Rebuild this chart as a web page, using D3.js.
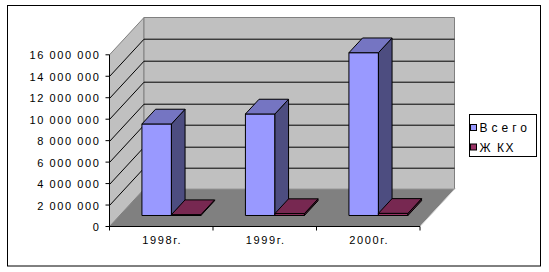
<!DOCTYPE html>
<html><head><meta charset="utf-8">
<script src="https://cdn.jsdelivr.net/npm/d3@7/dist/d3.min.js"></script>
<style>body{margin:0;background:#fff}svg{display:block}text{font-family:Arial,"Liberation Sans",sans-serif}</style>
</head><body>
<script>
const categories = ["1998г.", "1999г.", "2000г."];
const seriesNames = ["Всего", "Ж КХ"];
const vsego = [8530000, 9460000, 15170000];
const zhkh = [80000, 180000, 200000];
const yTicks = [0, 2000000, 4000000, 6000000, 8000000, 10000000, 12000000, 14000000, 16000000];
const yTickLabels = ["0", "2 000 000", "4 000 000", "6 000 000", "8 000 000", "10 000 000", "12 000 000", "14 000 000", "16 000 000"];

const W = 549, H = 272;
const svg = d3.select("body").append("svg").attr("width", W).attr("height", H);
svg.append("rect").attr("x", 7.5).attr("y", 5.5).attr("width", 533).attr("height", 260.5)
  .attr("fill", "#fff").attr("stroke", "#000");

const x0 = 109.5, xW = 310.5, y0 = 226.5;
const dx = 34.5, dy = -37.3;
const f0 = 0.295, f1 = 0.69;
const y = d3.scaleLinear().domain([0, 16000000]).range([y0, y0 - 171.7]);
const xb = d3.scaleBand().domain(categories).range([x0, x0 + xW]).paddingInner(0).paddingOuter(0);
const xs = d3.scaleBand().domain(seriesNames).range([0, xb.bandwidth()]).paddingInner(0).paddingOuter(0.754);
const P = (pts) => pts.map(p => p.join(",")).join(" ");
const yTop = y(16000000);

// walls
svg.append("polygon").attr("points", P([[x0, yTop], [x0 + dx, yTop + dy], [x0 + dx, y0 + dy], [x0, y0]]))
  .attr("fill", "#C0C0C0").attr("stroke", "#808080").attr("stroke-width", 1);
svg.append("polygon").attr("points", P([[x0 + dx, yTop + dy], [x0 + dx + xW, yTop + dy], [x0 + dx + xW, y0 + dy], [x0 + dx, y0 + dy]]))
  .attr("fill", "#C0C0C0").attr("stroke", "#808080").attr("stroke-width", 1);
// floor
svg.append("polygon").attr("points", P([[x0, y0], [x0 + xW, y0], [x0 + xW + dx, y0 + dy], [x0 + dx, y0 + dy]]))
  .attr("fill", "#808080").attr("stroke", "none");
svg.append("line").attr("x1", x0 + xW + 1).attr("y1", y0 - 1).attr("x2", x0 + xW + dx + 1).attr("y2", y0 + dy - 1)
  .attr("stroke", "#d8d8d8").attr("stroke-width", 1);

// gridlines
const gl = svg.append("g").attr("stroke", "#000").attr("stroke-width", 1).attr("fill", "none");
yTicks.filter(v => v > 0 && v < 16000000).forEach(v => {
  const yy = Math.round(y(v)) + 0.5;
  gl.append("polyline").attr("points", P([[x0, yy], [x0 + dx, yy + dy], [x0 + dx + xW, yy + dy]]));
});

// bars
const series = [
  {name: seriesNames[0], vals: vsego, front: "#9999FF", topc: "#7575C2", side: "#4D4D80", ls: 4.0},
  {name: seriesNames[1], vals: zhkh, front: "#993366", topc: "#772851", side: "#4D1A33", ls: 1.5}
];
const bars = svg.append("g").attr("stroke", "#000").attr("stroke-width", 1).attr("stroke-linejoin", "round");
categories.forEach((c, i) => {
  series.forEach(s => {
    const bx = xb(c) + xs(s.name) + f0 * dx;
    const bw = xs.bandwidth();
    const by0 = y(0) + f0 * dy;
    const by1 = y(s.vals[i]) + f0 * dy;
    const ddx = (f1 - f0) * dx, ddy = (f1 - f0) * dy;
    bars.append("polygon").attr("points", P([[bx, by1], [bx + bw, by1], [bx + bw, by0], [bx, by0]])).attr("fill", s.front);
    bars.append("polygon").attr("points", P([[bx + bw, by1], [bx + bw + ddx, by1 + ddy], [bx + bw + ddx, by0 + ddy], [bx + bw, by0]])).attr("fill", s.side);
    bars.append("polygon").attr("points", P([[bx, by1], [bx + ddx, by1 + ddy], [bx + bw + ddx, by1 + ddy], [bx + bw, by1]])).attr("fill", s.topc);
  });
});

// axes
const ax = svg.append("g").attr("stroke", "#000").attr("stroke-width", 1);
ax.append("line").attr("x1", x0).attr("x2", x0).attr("y1", yTop).attr("y2", y0);
ax.append("line").attr("x1", x0).attr("x2", x0 + xW).attr("y1", y0).attr("y2", y0);
yTicks.forEach(v => {
  ax.append("line").attr("x1", x0 - 4).attr("x2", x0).attr("y1", y(v)).attr("y2", y(v));
});
xb.domain().concat(["end"]).forEach((c, i) => {
  const xx = x0 + i * xb.bandwidth();
  ax.append("line").attr("x1", xx).attr("x2", xx).attr("y1", y0).attr("y2", y0 + 4);
});
const lab = svg.append("g").attr("font-size", "11px").attr("fill", "#000").attr("letter-spacing", "1.6px");
yTicks.forEach((v, i) => {
  lab.append("text").attr("x", 100.5).attr("y", y(v) + 4.5).attr("text-anchor", "end").text(yTickLabels[i]);
});
categories.forEach(c => {
  lab.append("text").attr("x", xb(c) + xb.bandwidth() / 2 + 1).attr("y", 244).attr("text-anchor", "middle").text(c);
});

// legend
const lg = svg.append("g");
lg.append("rect").attr("x", 469.5).attr("y", 114.5).attr("width", 67).attr("height", 42).attr("fill", "#fff").attr("stroke", "#000");
series.forEach((s, i) => {
  const cy = 127.5 + i * 19.5;
  lg.append("rect").attr("x", 470.5).attr("y", cy - 3).attr("width", 6).attr("height", 6).attr("fill", s.front).attr("stroke", "#000");
  lg.append("text").attr("x", 479.5).attr("y", cy + 4.5).attr("font-size", "12px").attr("letter-spacing", s.ls + "px").text(s.name);
});
</script>
</body></html>
